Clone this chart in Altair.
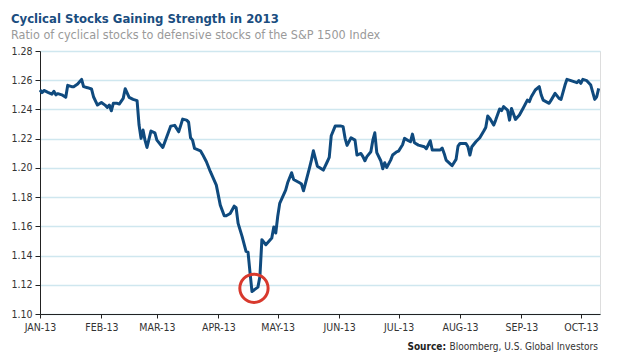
import altair as alt
import pandas as pd

dates = [
    "2013-01-01", "2013-01-02", "2013-01-03", "2013-01-05", "2013-01-07", "2013-01-08", "2013-01-09", "2013-01-10",
    "2013-01-12", "2013-01-14", "2013-01-15", "2013-01-17", "2013-01-18", "2013-01-20", "2013-01-22", "2013-01-23",
    "2013-01-25", "2013-01-27", "2013-01-28", "2013-01-30", "2013-02-01", "2013-02-03", "2013-02-04", "2013-02-05",
    "2013-02-06", "2013-02-07", "2013-02-09", "2013-02-10", "2013-02-12", "2013-02-13", "2013-02-15", "2013-02-17",
    "2013-02-19", "2013-02-20", "2013-02-21", "2013-02-22", "2013-02-23", "2013-02-24", "2013-02-26", "2013-02-28",
    "2013-03-01", "2013-03-04", "2013-03-06", "2013-03-08", "2013-03-10", "2013-03-12", "2013-03-13", "2013-03-14",
    "2013-03-16", "2013-03-17", "2013-03-18", "2013-03-19", "2013-03-20", "2013-03-23", "2013-03-24", "2013-03-26",
    "2013-03-28", "2013-03-31", "2013-04-02", "2013-04-04", "2013-04-05", "2013-04-07", "2013-04-09", "2013-04-10",
    "2013-04-11", "2013-04-13", "2013-04-15", "2013-04-16", "2013-04-17", "2013-04-18", "2013-04-21", "2013-04-22",
    "2013-04-23", "2013-04-25", "2013-04-28", "2013-04-29", "2013-04-30", "2013-05-01", "2013-05-02", "2013-05-05",
    "2013-05-06", "2013-05-08", "2013-05-09", "2013-05-12", "2013-05-13", "2013-05-14", "2013-05-17", "2013-05-18",
    "2013-05-19", "2013-05-21", "2013-05-22", "2013-05-24", "2013-05-26", "2013-05-27", "2013-05-28", "2013-05-30",
    "2013-06-02", "2013-06-03", "2013-06-04", "2013-06-05", "2013-06-07", "2013-06-09", "2013-06-10", "2013-06-12",
    "2013-06-13", "2013-06-14", "2013-06-15", "2013-06-17", "2013-06-18", "2013-06-19", "2013-06-20", "2013-06-22",
    "2013-06-23", "2013-06-24", "2013-06-25", "2013-06-27", "2013-06-28", "2013-06-30", "2013-07-01", "2013-07-03",
    "2013-07-04", "2013-07-06", "2013-07-07", "2013-07-08", "2013-07-09", "2013-07-11", "2013-07-14", "2013-07-15",
    "2013-07-17", "2013-07-18", "2013-07-19", "2013-07-22", "2013-07-23", "2013-07-24", "2013-07-25", "2013-07-28",
    "2013-07-30", "2013-07-31", "2013-08-01", "2013-08-04", "2013-08-05", "2013-08-06", "2013-08-07", "2013-08-09",
    "2013-08-11", "2013-08-13", "2013-08-14", "2013-08-15", "2013-08-16", "2013-08-18", "2013-08-19", "2013-08-21",
    "2013-08-22", "2013-08-23", "2013-08-25", "2013-08-26", "2013-08-27", "2013-08-29", "2013-08-31", "2013-09-02",
    "2013-09-04", "2013-09-05", "2013-09-06", "2013-09-08", "2013-09-10", "2013-09-11", "2013-09-12", "2013-09-15",
    "2013-09-16", "2013-09-18", "2013-09-20", "2013-09-21", "2013-09-23", "2013-09-24", "2013-09-26", "2013-09-29",
    "2013-09-30", "2013-10-01", "2013-10-02", "2013-10-04", "2013-10-06", "2013-10-08", "2013-10-09", "2013-10-10",
]

ratio = [
    1.2533, 1.2515, 1.2530, 1.2517, 1.2505, 1.2524, 1.2500, 1.2508,
    1.2500, 1.2483, 1.2565, 1.2556, 1.2556, 1.2574, 1.2606, 1.2556,
    1.2549, 1.2540, 1.2487, 1.2430, 1.2448, 1.2428, 1.2414, 1.2430,
    1.2391, 1.2442, 1.2442, 1.2437, 1.2476, 1.2542, 1.2483, 1.2469,
    1.2460, 1.2293, 1.2202, 1.2259, 1.2190, 1.2140, 1.2252, 1.2240,
    1.2190, 1.2140, 1.2213, 1.2286, 1.2291, 1.2247, 1.2289, 1.2334,
    1.2327, 1.2313, 1.2206, 1.2190, 1.2133, 1.2117, 1.2094, 1.2042,
    1.1974, 1.1882, 1.1745, 1.1672, 1.1672, 1.1688, 1.1738, 1.1727,
    1.1620, 1.1531, 1.1429, 1.1424, 1.1285, 1.1154, 1.1184, 1.1257,
    1.1509, 1.1474, 1.1520, 1.1595, 1.1554, 1.1669, 1.1757, 1.1848,
    1.1898, 1.1967, 1.1921, 1.1898, 1.1889, 1.1843, 1.1999, 1.2053,
    1.2117, 1.2012, 1.2003, 1.1985, 1.2042, 1.2072, 1.2220, 1.2286,
    1.2286, 1.2282, 1.2202, 1.2154, 1.2206, 1.2190, 1.2088, 1.2099,
    1.2077, 1.2049, 1.2077, 1.2110, 1.2190, 1.2240, 1.2104, 1.2049,
    1.1994, 1.2035, 1.2003, 1.2053, 1.2088, 1.2110, 1.2115, 1.2158,
    1.2202, 1.2186, 1.2179, 1.2231, 1.2172, 1.2156, 1.2145, 1.2131,
    1.2186, 1.2122, 1.2122, 1.2122, 1.2136, 1.2099, 1.2053, 1.2015,
    1.2058, 1.2149, 1.2167, 1.2167, 1.2145, 1.2088, 1.2145, 1.2179,
    1.2206, 1.2252, 1.2277, 1.2355, 1.2339, 1.2293, 1.2327, 1.2403,
    1.2392, 1.2419, 1.2396, 1.2327, 1.2407, 1.2332, 1.2362, 1.2412,
    1.2464, 1.2453, 1.2487, 1.2533, 1.2556, 1.2499, 1.2464, 1.2442,
    1.2464, 1.2510, 1.2476, 1.2469, 1.2567, 1.2606, 1.2597, 1.2583,
    1.2597, 1.2579, 1.2606, 1.2597, 1.2567, 1.2469, 1.2487, 1.2544,
]

y_ticks = [1.10, 1.12, 1.14, 1.16, 1.18, 1.20, 1.22, 1.24, 1.26, 1.28]
month_starts = list(range(1, 11))

circle_date = ["2013-04-19"]
circle_value = [1.1176]

title_text = "Cyclical Stocks Gaining Strength in 2013"
subtitle_text = "Ratio of cyclical stocks to defensive stocks of the S&P 1500 Index"
source_bold = "Source:"
source_rest = "Bloomberg, U.S. Global Investors"

FONT = "Noto Sans Condensed, DejaVu Sans Condensed, Roboto Condensed, Liberation Sans Narrow, Liberation Sans, sans-serif"

df = pd.DataFrame({"date": pd.to_datetime(dates), "ratio": ratio})
circ = pd.DataFrame({"date": pd.to_datetime(circle_date), "ratio": circle_value})

x_scale = alt.Scale(domain=[alt.DateTime(year=2013, month=1, date=1),
                            alt.DateTime(year=2013, month=10, date=10, hours=16)])
y_scale = alt.Scale(domain=[1.10, 1.28], nice=False, zero=False)

x_axis = alt.Axis(
    values=[alt.DateTime(year=2013, month=m, date=1) for m in month_starts],
    labelExpr="upper(timeFormat(datum.value, '%b-%y'))",
    title=None, grid=False, domainColor="#222222", tickColor="#222222",
    tickSize=4, labelPadding=4, labelFont=FONT, labelFontSize=10.5, labelColor="#333333",
    labelOverlap=False, labelFlush=False,
)
y_axis = alt.Axis(
    values=y_ticks, format=".2f", title=None,
    grid=True, gridColor="#cfe7ef", gridWidth=1.5,
    domainColor="#222222", tickColor="#222222", tickSize=5, labelPadding=3,
    labelFont=FONT, labelFontSize=10.5, labelColor="#333333", labelOverlap=False,
)

line = alt.Chart(df).mark_line(color="#0f4a7e", strokeWidth=3, strokeJoin="round").encode(
    x=alt.X("date:T", scale=x_scale, axis=x_axis),
    y=alt.Y("ratio:Q", scale=y_scale, axis=y_axis),
)

ring = alt.Chart(circ).mark_point(shape="circle", filled=False, size=800, strokeWidth=3,
                                   color="#d8392d", opacity=1).encode(
    x=alt.X("date:T", scale=x_scale, axis=x_axis),
    y=alt.Y("ratio:Q", scale=y_scale, axis=y_axis),
)

src_df = pd.DataFrame({"a": [source_bold], "b": [source_rest]})
src_bold = alt.Chart(src_df).mark_text(font=FONT, fontSize=10, fontWeight="bold", align="right",
                                        baseline="middle", color="#222222").encode(
    text="a:N", x=alt.value(406), y=alt.value(296))
src_reg = alt.Chart(src_df).mark_text(font=FONT, fontSize=10, align="right",
                                       baseline="middle", color="#333333").encode(
    text="b:N", x=alt.value(558), y=alt.value(296))

chart = alt.layer(line, ring, src_bold, src_reg).properties(
    width=560, height=263,
    padding={"left": 2, "top": 4, "right": 2, "bottom": 5},
    title=alt.TitleParams(
        text=title_text, subtitle=subtitle_text, anchor="start", frame="bounds",
        font=FONT, fontSize=13, fontWeight="bold", color="#1a4d80",
        subtitleFont=FONT, subtitleFontSize=12.5, subtitleColor="#9a9a9a",
        subtitlePadding=3, offset=5,
    ),
).configure_view(stroke=None).configure(background="white")

chart.save("out.html", embed_options={"renderer": "svg", "actions": False})
